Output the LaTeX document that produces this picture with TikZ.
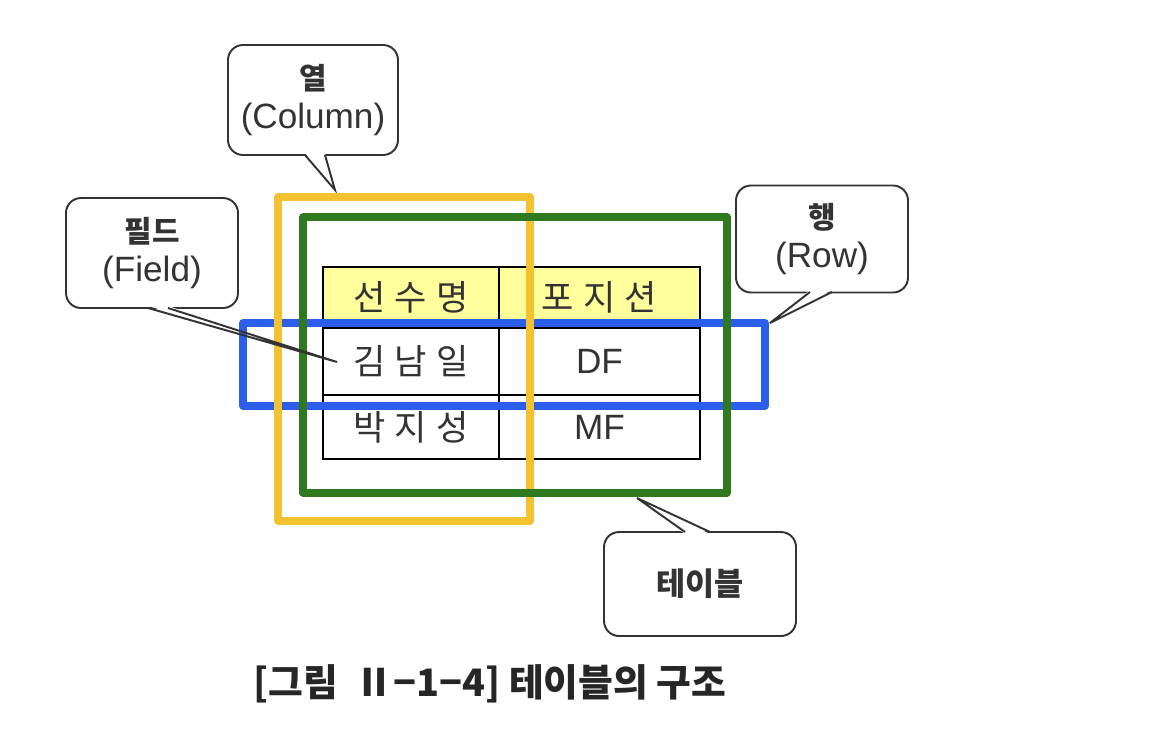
\documentclass[tikz,border=0pt]{standalone}
\usepackage{fontspec}
\setmainfont{Noto Sans CJK KR}
\newfontfamily\latinfont{Liberation Sans}
\usetikzlibrary{calc}
\def\pxu{0.02cm}
\definecolor{colyellow}{HTML}{F2C230}
\definecolor{rowblue}{HTML}{2B5FEA}
\definecolor{tabgreen}{HTML}{2F7A1F}
\definecolor{headfill}{HTML}{FFFF9C}
\definecolor{txt}{HTML}{333333}
\tikzset{
  callbox/.style={draw=black!80, line width=1.1pt, rounded corners=0.3cm, fill=white,
    align=center, inner sep=0pt, text=txt, font=\fontsize{20}{20}\selectfont},
  tailline/.style={draw=black!80, line width=1.1pt, line join=miter},
  cell/.style={draw=black, line width=1.1pt, inner sep=0pt, text=txt,
    font=\fontsize{20}{24}\selectfont\addfontfeature{LetterSpace=26}},
  latcell/.style={cell, font=\fontsize{20}{24}\selectfont\latinfont},
  frame/.style={line width=4pt, line join=round},
}
\begin{document}
\begin{tikzpicture}[x=0.02cm, y=-0.02cm]
\useasboundingbox[fill=white] (0,0) rectangle (1176,750);

% ---- callouts ----
\node[callbox, minimum width=170*\pxu, minimum height=110*\pxu] (colbox) at (313,100)
  {{\fontsize{17}{17}\selectfont\bfseries 열}\\[2pt]{\latinfont (Column)}};
\node[callbox, minimum width=172*\pxu, minimum height=110*\pxu] (fieldbox) at (152,253)
  {{\fontsize{17}{17}\selectfont\bfseries 필드}\\[2pt]{\latinfont (Field)}};
\node[callbox, minimum width=172*\pxu, minimum height=107*\pxu] (rowbox) at (822,239)
  {{\fontsize{17}{17}\selectfont\bfseries 행}\\[2pt]{\latinfont (Row)}};
\node[callbox, minimum width=192*\pxu, minimum height=104*\pxu] (tabbox) at (700,584)
  {{\fontsize{18}{18}\selectfont\bfseries 테이블}};

% tail coordinates
\coordinate (colA) at (305,155); \coordinate (colB) at (325,155); \coordinate (colT) at (335,190);
\coordinate (fldA) at (148,308); \coordinate (fldB) at (168,308); \coordinate (fldT) at (337,362);
\coordinate (rowA) at (810,292); \coordinate (rowB) at (832,292); \coordinate (rowT) at (770,323);
\coordinate (tabA) at (685,532); \coordinate (tabB) at (710,532); \coordinate (tabT) at (637,498);

% tails (white cover over box border, then sides)
\fill[white] ($(colA)+(0,-2)$) -- (colT) -- ($(colB)+(0,-2)$) -- cycle;
\draw[tailline] (colA) -- (colT) -- (colB);
\fill[white] ($(fldA)+(0,-2)$) -- (fldT) -- ($(fldB)+(0,-2)$) -- cycle;
\fill[white] ($(rowA)+(0,-2)$) -- (rowT) -- ($(rowB)+(0,-2)$) -- cycle;
\draw[tailline] (rowA) -- (rowT) -- (rowB);
\fill[white] ($(tabA)+(0,2)$) -- (tabT) -- ($(tabB)+(0,2)$) -- cycle;
\draw[tailline] (tabA) -- (tabT) -- (tabB);

% ---- table ----
\node[cell, fill=headfill, minimum width=176*\pxu, minimum height=61*\pxu] (h1) at (411,297.5) {선수명};
\node[cell, fill=headfill, minimum width=201*\pxu, minimum height=61*\pxu] (h2) at (599.5,297.5) {포지션};
\node[cell, minimum width=176*\pxu, minimum height=67*\pxu] (r1c1) at (411,361.5) {김남일};
\node[latcell, minimum width=201*\pxu, minimum height=67*\pxu] (r1c2) at (599.5,361.5) {DF};
\node[cell, minimum width=176*\pxu, minimum height=64*\pxu] (r2c1) at (411,427) {박지성};
\node[latcell, minimum width=201*\pxu, minimum height=64*\pxu] (r2c2) at (599.5,427) {MF};

% ---- highlight frames ----
\draw[frame, draw=rowblue] (243,323) rectangle (765,406);
\draw[frame, draw=colyellow] (278,197) rectangle (530,521);
\draw[frame, draw=tabgreen] (303,217) rectangle (727,493);

% field tail on top
\draw[tailline] (fldA) -- (fldT) -- (fldB);

% ---- caption ----
\node[font=\fontsize{21.5}{21.5}\selectfont\bfseries, text=black!85] (caption) at (490,684)
  {[그림 \ Ⅱ−1−4] 테이블의 구조};
\end{tikzpicture}
\end{document}
